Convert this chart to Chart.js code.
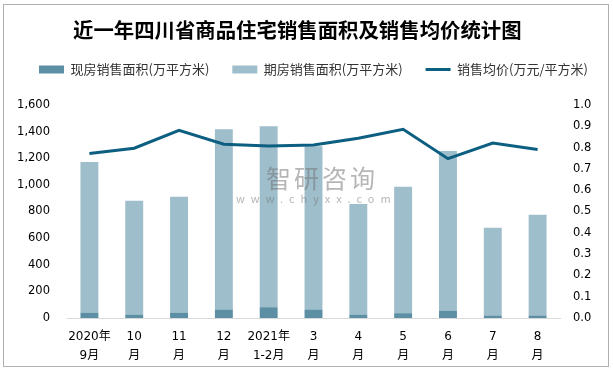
<!DOCTYPE html>
<html>
<head>
<meta charset="utf-8">
<script src="https://cdn.jsdelivr.net/npm/chart.js@4.4.1/dist/chart.umd.min.js"></script>
<style>
  html, body { margin: 0; padding: 0; background: #fff; }
  #wrap { position: relative; width: 613px; height: 371px; overflow: hidden; }
  #frame { position: absolute; left: 3px; top: 4px; width: 604px; height: 361px; border: 1px solid #b0b0b0; pointer-events: none; }
  #title { position: absolute; left: 73px; top: 14px; font: bold 20.4px "Noto Sans CJK SC", sans-serif; color: #000; white-space: nowrap; }
  #wm { position: absolute; left: 236px; top: 163px; color: rgba(110,110,110,0.5); font-family: "Noto Sans CJK SC", sans-serif; pointer-events: none; }
  #wm .big { font-size: 25px; line-height: 28px; padding-left: 30px; letter-spacing: 3px; }
  #wm .small { font-size: 11px; letter-spacing: 6px; line-height: 14px; }
  canvas { position: absolute; left: 0; top: 0; }
</style>
</head>
<body>
<div id="wrap">
  <canvas id="chart" width="613" height="371"></canvas>
  <div id="title">近一年四川省商品住宅销售面积及销售均价统计图</div>
  <div id="wm"><div class="big">智研咨询</div><div class="small">www.chyxx.com</div></div>
  <div id="frame"></div>
</div>
<script>
// Months (two-line tick labels)
const months = [
    ['2020年', '9月'], ['10', '月'], ['11', '月'], ['12', '月'], ['2021年', '1-2月'],
    ['3', '月'], ['4', '月'], ['5', '月'], ['6', '月'], ['7', '月'], ['8', '月']
];

// Sales area, 10k m2
const spotArea = [40, 25, 40, 64, 81, 64, 26, 36, 56, 19, 19];
const futureArea = [1131, 855, 870, 1354, 1359, 1226, 831, 949, 1198, 658, 756];

// Average price, 10k yuan / m2
const avgPrice = [0.772, 0.797, 0.881, 0.816, 0.808, 0.812, 0.844, 0.886, 0.748, 0.821, 0.791];

const tickFont = { family: '"DejaVu Sans", "Noto Sans CJK SC", sans-serif', size: 11.5 };

const ctx = document.getElementById('chart').getContext('2d');
const chart = new Chart(ctx, {
    data: {
        labels: months,
        datasets: [
            {
                type: 'bar',
                label: '现房销售面积(万平方米)',
                data: spotArea,
                backgroundColor: '#5c8fa4',
                pointStyle: 'rect',
                yAxisID: 'y',
                order: 1,
                barPercentage: 0.4,
                categoryPercentage: 1
            },
            {
                type: 'bar',
                label: '期房销售面积(万平方米)',
                data: futureArea,
                backgroundColor: '#9fbecb',
                pointStyle: 'rect',
                yAxisID: 'y',
                order: 1,
                barPercentage: 0.4,
                categoryPercentage: 1
            },
            {
                type: 'line',
                label: '销售均价(万元/平方米)',
                data: avgPrice,
                borderColor: '#0c5f80',
                backgroundColor: '#0c5f80',
                borderWidth: 3,
                pointRadius: 0,
                pointStyle: 'line',
                tension: 0,
                yAxisID: 'y1',
                order: 0
            }
        ]
    },
    options: {
        responsive: false,
        animation: false,
        layout: { padding: { top: 40, left: 14, right: 0, bottom: 0 } },
        plugins: {
            title: { display: false },
            tooltip: { enabled: false },
            legend: {
                position: 'top',
                labels: {
                    usePointStyle: true,
                    pointStyleWidth: 25,
                    boxHeight: 8,
                    padding: 23,
                    color: '#333',
                    font: { family: '"Noto Sans CJK SC", sans-serif', size: 13 },
                    sort: (a, b) => a.datasetIndex - b.datasetIndex
                }
            },
            // empty spacer between legend and plot
            subtitle: {
                display: true,
                text: '',
                weight: 500,
                font: { size: 1, lineHeight: 1 },
                padding: { top: 0, bottom: 18 }
            }
        },
        scales: {
            x: {
                stacked: true,
                grid: { display: false, drawTicks: false },
                border: { display: true, color: '#d9d9d9', width: 1 },
                ticks: {
                    color: '#000',
                    font: Object.assign({}, tickFont, { size: 12, lineHeight: 1.6 }),
                    padding: 9,
                    maxRotation: 0,
                    autoSkip: false
                },
                afterFit: (s) => { s.height = 53; }
            },
            y: {
                type: 'linear',
                position: 'left',
                stacked: true,
                min: 0,
                max: 1600,
                grid: { display: false, drawTicks: false },
                border: { display: false },
                ticks: { stepSize: 200, color: '#000', font: tickFont, padding: 17 },
                afterFit: (s) => { s.width = 53; }
            },
            y1: {
                type: 'linear',
                position: 'right',
                min: 0,
                max: 1,
                grid: { display: false, drawTicks: false },
                border: { display: false },
                ticks: {
                    stepSize: 0.1,
                    color: '#000',
                    font: tickFont,
                    padding: 13,
                    callback: (v) => v.toFixed(1)
                },
                afterFit: (s) => { s.width = 53; }
            }
        }
    }
});
</script>
</body>
</html>
